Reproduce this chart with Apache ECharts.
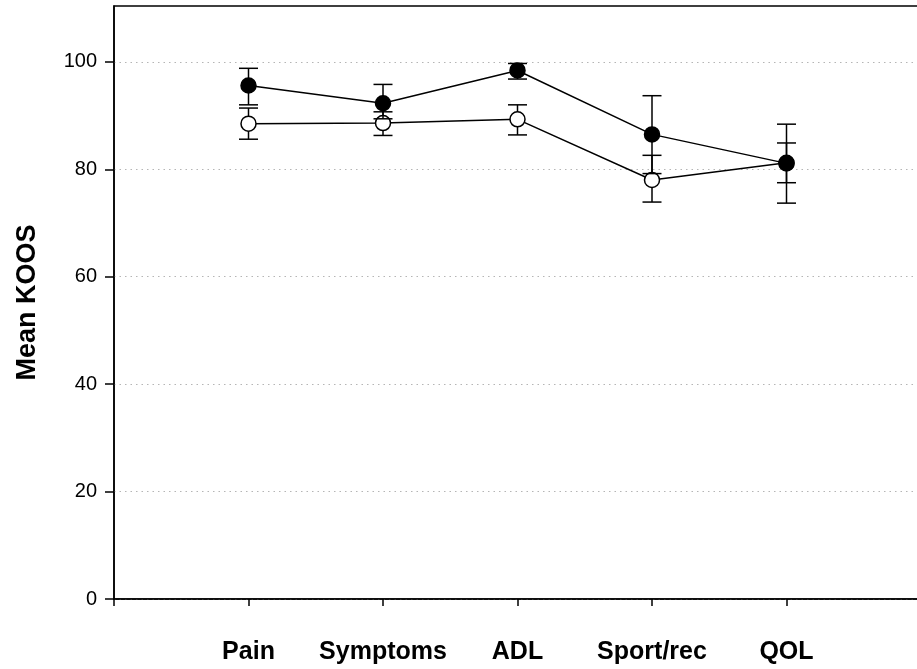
<!DOCTYPE html>
<html>
<head>
<meta charset="utf-8">
<script src="https://cdn.jsdelivr.net/npm/echarts@6/dist/echarts.min.js"></script>
<style>
html,body{margin:0;padding:0;background:#fff;}
#chart{width:917px;height:669px;}
</style>
</head>
<body>
<div id="chart"></div>
<script>
var categories = ['Pain', 'Symptoms', 'ADL', 'Sport/rec', 'QOL'];
var filledMean = [95.6, 92.3, 98.4, 86.5, 81.1];
var filledLow  = [92.0, 89.4, 96.8, 79.2, 73.7];
var filledHigh = [98.8, 95.8, 99.7, 93.7, 88.4];
var openMean   = [88.5, 88.6, 89.3, 78.0, 81.2];
var openLow    = [85.6, 86.3, 86.4, 73.9, 77.5];
var openHigh   = [91.4, 90.7, 92.0, 82.6, 84.9];
var yTicks = [0, 20, 40, 60, 80, 100];

var FONT = "'Liberation Sans', Arial, sans-serif";

function pts(arr) { return arr.map(function (v, i) { return [i + 1, v]; }); }
function errData(low, high) { return low.map(function (v, i) { return [i + 1, v, high[i]]; }); }

function renderErr(params, api) {
  var x = api.value(0);
  var lo = api.coord([x, api.value(1)]);
  var hi = api.coord([x, api.value(2)]);
  var hw = 9.5;
  var st = { stroke: '#000', lineWidth: 1.5 };
  return {
    type: 'group',
    children: [
      { type: 'line', shape: { x1: lo[0], y1: lo[1], x2: hi[0], y2: hi[1] }, style: st },
      { type: 'line', shape: { x1: lo[0] - hw, y1: lo[1], x2: lo[0] + hw, y2: lo[1] }, style: st },
      { type: 'line', shape: { x1: hi[0] - hw, y1: hi[1], x2: hi[0] + hw, y2: hi[1] }, style: st }
    ]
  };
}

var chart = echarts.init(document.getElementById('chart'), null, { renderer: 'canvas' });
chart.setOption({
  animation: false,
  backgroundColor: '#fff',
  grid: {
    left: 114, width: 807, top: 6, bottom: 70, outerBoundsMode: 'none', containLabel: false,
    show: true, borderColor: '#000', borderWidth: 1.5, backgroundColor: 'transparent'
  },
  xAxis: {
    type: 'value', min: 0, max: 6, interval: 1,
    axisLine: { show: true, onZero: false, lineStyle: { color: '#000', width: 1.5 } },
    axisTick: { show: true, inside: false, length: 7, lineStyle: { color: '#000', width: 1.5 } },
    axisLabel: {
      margin: 41, color: '#000', fontFamily: FONT, fontWeight: 'bold', fontSize: 25,
      formatter: function (v) { return categories[v - 1] || ''; }
    },
    splitLine: { show: false }
  },
  yAxis: {
    type: 'value', min: 0, max: 110.4, interval: 20,
    name: 'Mean KOOS', nameLocation: 'middle', nameGap: 73, nameRotate: 90,
    nameTextStyle: { color: '#000', fontFamily: FONT, fontWeight: 'bold', fontSize: 27 },
    axisLine: { show: true, lineStyle: { color: '#000', width: 1.5 } },
    axisTick: { show: true, length: 9, customValues: yTicks, lineStyle: { color: '#000', width: 1.5 } },
    axisLabel: { margin: 17, color: '#000', fontFamily: FONT, fontSize: 20, customValues: yTicks },
    splitLine: { show: true, lineStyle: { color: '#b5b5b5', width: 1.2, type: [1.5, 4] } }
  },
  series: [
    { type: 'custom', z: 1, renderItem: renderErr, data: errData(openLow, openHigh), encode: { x: 0, y: [1, 2] } },
    {
      type: 'line', z: 2, data: pts(openMean), symbol: 'circle', symbolSize: 15,
      lineStyle: { color: '#000', width: 1.5 },
      itemStyle: { color: '#fff', borderColor: '#000', borderWidth: 1.5 }
    },
    { type: 'custom', z: 3, renderItem: renderErr, data: errData(filledLow, filledHigh), encode: { x: 0, y: [1, 2] } },
    {
      type: 'line', z: 4, data: pts(filledMean), symbol: 'circle', symbolSize: 15,
      lineStyle: { color: '#000', width: 1.5 },
      itemStyle: { color: '#000', borderColor: '#000', borderWidth: 1.5 }
    }
  ]
});
</script>
</body>
</html>
